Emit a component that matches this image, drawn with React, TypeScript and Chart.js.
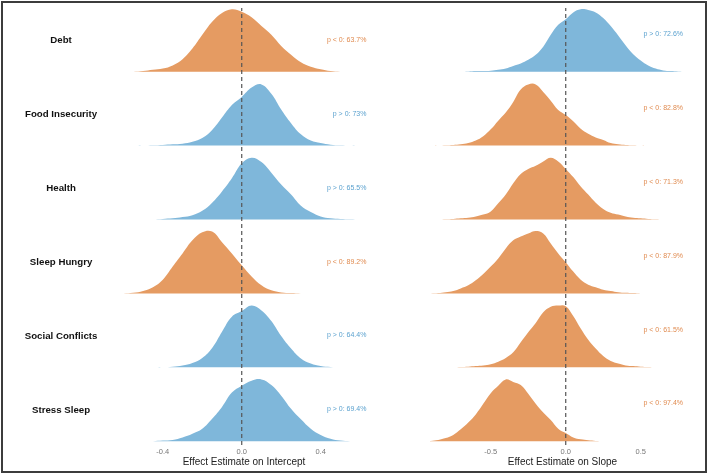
import React, { useEffect, useRef } from "react";
import { Chart, registerables } from "chart.js";

Chart.register(...registerables);

// ---------- data ----------
const categories = ["Debt", "Food Insecurity", "Health", "Sleep Hungry", "Social Conflicts", "Stress Sleep"];

const interceptTicks = [-0.4, 0, 0.4];
const slopeTicks = [-0.5, 0, 0.5];

const interceptGrid = [-0.6, -0.55, -0.5, -0.45, -0.4, -0.35, -0.3, -0.25, -0.2, -0.15, -0.1, -0.05, 0, 0.05, 0.1, 0.15, 0.2, 0.25, 0.3, 0.35, 0.4, 0.45, 0.5, 0.55, 0.6];
const slopeGrid = [-0.95, -0.9, -0.85, -0.8, -0.75, -0.7, -0.65, -0.6, -0.55, -0.5, -0.45, -0.4, -0.35, -0.3, -0.25, -0.2, -0.15, -0.1, -0.05, 0, 0.05, 0.1, 0.15, 0.2, 0.25, 0.3, 0.35, 0.4, 0.45, 0.5, 0.55, 0.6, 0.65, 0.7, 0.75, 0.8];

// relative density heights (peak = 1), intercept panel
const interceptDebt = [0, 0, 0.01, 0.03, 0.05, 0.1, 0.2, 0.37, 0.59, 0.8, 0.94, 1.0, 0.96, 0.87, 0.73, 0.59, 0.41, 0.27, 0.15, 0.08, 0.04, 0.01, 0, 0, 0];
const interceptFood = [0, 0, 0, 0.005, 0.01, 0.02, 0.03, 0.06, 0.12, 0.25, 0.45, 0.65, 0.78, 0.93, 0.98, 0.83, 0.58, 0.36, 0.18, 0.08, 0.04, 0.015, 0.005, 0, 0];
const interceptHealth = [0, 0, 0, 0, 0.01, 0.02, 0.04, 0.07, 0.14, 0.27, 0.45, 0.66, 0.9, 0.99, 0.92, 0.75, 0.56, 0.4, 0.22, 0.12, 0.05, 0.02, 0.01, 0.005, 0];
const interceptSleepHungry = [0, 0.01, 0.04, 0.1, 0.22, 0.43, 0.64, 0.85, 0.98, 0.99, 0.82, 0.64, 0.45, 0.27, 0.13, 0.05, 0.016, 0.005, 0, 0, 0, 0, 0, 0, 0];
const interceptSocial = [0, 0, 0, 0, 0, 0.01, 0.03, 0.07, 0.15, 0.31, 0.57, 0.81, 0.9, 0.99, 0.91, 0.74, 0.5, 0.3, 0.14, 0.06, 0.02, 0.005, 0, 0, 0];
const interceptStress = [0, 0, 0, 0, 0.01, 0.02, 0.06, 0.12, 0.2, 0.36, 0.55, 0.78, 0.89, 0.97, 0.99, 0.9, 0.73, 0.52, 0.35, 0.2, 0.1, 0.04, 0.01, 0, 0];

// relative density heights (peak = 1), slope panel
const slopeDebt = [0, 0, 0, 0, 0, 0, 0.005, 0.01, 0.01, 0.015, 0.03, 0.05, 0.09, 0.13, 0.19, 0.27, 0.4, 0.59, 0.75, 0.84, 0.95, 1.0, 0.99, 0.95, 0.86, 0.73, 0.58, 0.42, 0.28, 0.18, 0.1, 0.05, 0.02, 0.01, 0.005, 0];
const slopeFood = [0, 0, 0, 0.005, 0.01, 0.02, 0.04, 0.08, 0.15, 0.26, 0.4, 0.53, 0.7, 0.9, 0.98, 0.98, 0.86, 0.72, 0.57, 0.49, 0.39, 0.27, 0.19, 0.13, 0.09, 0.04, 0.02, 0.01, 0.005, 0, 0, 0, 0, 0, 0, 0];
const slopeHealth = [0, 0, 0, 0.005, 0.01, 0.02, 0.03, 0.05, 0.08, 0.13, 0.26, 0.4, 0.58, 0.73, 0.81, 0.86, 0.93, 0.99, 0.93, 0.81, 0.68, 0.53, 0.4, 0.27, 0.17, 0.11, 0.08, 0.05, 0.03, 0.02, 0.01, 0.005, 0, 0, 0, 0];
const slopeSleepHungry = [0, 0, 0.005, 0.02, 0.04, 0.08, 0.13, 0.21, 0.31, 0.43, 0.56, 0.72, 0.85, 0.91, 0.96, 1.0, 0.96, 0.8, 0.64, 0.5, 0.35, 0.22, 0.14, 0.1, 0.06, 0.04, 0.02, 0.01, 0.005, 0, 0, 0, 0, 0, 0, 0];
const slopeSocial = [0, 0, 0, 0, 0, 0.005, 0.01, 0.02, 0.03, 0.05, 0.09, 0.15, 0.24, 0.4, 0.56, 0.71, 0.88, 0.97, 0.99, 0.98, 0.82, 0.62, 0.44, 0.3, 0.18, 0.1, 0.06, 0.03, 0.02, 0.01, 0.005, 0, 0, 0, 0, 0];
const slopeStress = [0, 0.005, 0.02, 0.05, 0.1, 0.19, 0.3, 0.43, 0.6, 0.77, 0.89, 0.99, 0.95, 0.9, 0.76, 0.6, 0.46, 0.34, 0.2, 0.13, 0.06, 0.03, 0.015, 0.005, 0, 0, 0, 0, 0, 0, 0, 0, 0, 0, 0, 0];

const interceptProbLabels = ["p < 0: 63.7%", "p > 0: 73%", "p > 0: 65.5%", "p < 0: 89.2%", "p > 0: 64.4%", "p > 0: 69.4%"];
const slopeProbLabels = ["p > 0: 72.6%", "p < 0: 82.8%", "p < 0: 71.3%", "p < 0: 87.9%", "p < 0: 61.5%", "p < 0: 97.4%"];

// ---------- styling ----------
const FONT = '"Liberation Sans", Arial, Helvetica, sans-serif';
const ORANGE = "#E59B62";
const BLUE = "#7FB7DA";
const ORANGE_TEXT = "#E08B50";
const BLUE_TEXT = "#5CA2CF";
const PEAK = 0.845;
const Y_MIN = -0.051;
const Y_MAX = 5.862;

Chart.defaults.font.family = FONT;

const probLabelPlugin = {
  id: "probLabels",
  afterDatasetsDraw(chart: any, _args: any, opts: any) {
    const { ctx } = chart;
    const x = chart.scales.x;
    const y = chart.scales.y;
    ctx.save();
    ctx.font = `7px ${FONT}`;
    ctx.textAlign = "right";
    ctx.textBaseline = "middle";
    (opts.labels as string[]).forEach((txt, i) => {
      const row = categories.length - 1 - i;
      ctx.fillStyle = txt.includes("<") ? ORANGE_TEXT : BLUE_TEXT;
      ctx.fillText(txt, x.getPixelForValue(opts.xAt), y.getPixelForValue(row + opts.yOffset));
    });
    ctx.restore();
  },
};

type PanelDef = {
  grid: number[];
  series: number[][];
  labels: string[];
  ticks: number[];
  title: string;
  xMin: number;
  xMax: number;
  showRows: boolean;
  padLeft: number;
  padRight: number;
  labelX: number;
  labelYOffset: number;
};

function buildConfig(p: PanelDef): any {
  const n = categories.length;
  const ridges = p.series.map((h, i) => {
    const base = n - 1 - i;
    const color = p.labels[i].includes("<") ? ORANGE : BLUE;
    return {
      type: "line",
      data: p.grid.map((x, j) => ({ x, y: base + h[j] * PEAK })),
      backgroundColor: color,
      borderColor: color,
      borderWidth: 0,
      pointRadius: 0,
      tension: 0.4,
      fill: { value: base },
    };
  });
  const zeroLine = {
    type: "line",
    data: [
      { x: 0, y: Y_MIN },
      { x: 0, y: Y_MAX },
    ],
    borderColor: "#555",
    borderWidth: 1.2,
    borderDash: [4, 3],
    pointRadius: 0,
    tension: 0,
    fill: false,
  };
  return {
    type: "line",
    data: { datasets: [zeroLine, ...ridges] },
    plugins: [probLabelPlugin],
    options: {
      animation: false,
      responsive: false,
      events: [],
      layout: { padding: { top: 8, left: p.padLeft, right: p.padRight, bottom: 0 } },
      plugins: {
        legend: { display: false },
        tooltip: { enabled: false },
        probLabels: { labels: p.labels, xAt: p.labelX, yOffset: p.labelYOffset },
      },
      scales: {
        x: {
          type: "linear",
          min: p.xMin,
          max: p.xMax,
          grid: { display: false, drawTicks: false },
          border: { display: false },
          afterBuildTicks: (s: any) => {
            s.ticks = p.ticks.map((v) => ({ value: v }));
          },
          ticks: {
            padding: 2,
            autoSkip: false,
            maxRotation: 0,
            color: "#777",
            font: { size: 7.5 },
            callback: (v: any) => Number(v).toFixed(1),
          },
          title: {
            display: true,
            text: p.title,
            color: "#222",
            font: { size: 10 },
            padding: { top: 0, bottom: 6 },
          },
          afterFit: (s: any) => {
            s.height = 29;
            s.paddingLeft = 0;
            s.paddingRight = 0;
          },
        },
        y: {
          type: "linear",
          min: Y_MIN,
          max: Y_MAX,
          display: p.showRows,
          grid: { display: false, drawTicks: false },
          border: { display: false },
          afterBuildTicks: (s: any) => {
            s.ticks = categories.map((_, i) => ({ value: i + 0.42 }));
          },
          ticks: {
            crossAlign: "center",
            padding: 22.6,
            color: "#111",
            font: { size: 9.7, weight: "bold" },
            callback: (_v: any, i: number) => categories[categories.length - 1 - i],
          },
          afterFit: (s: any) => {
            if (p.showRows) s.width = 120;
            s.paddingTop = 0;
            s.paddingBottom = 0;
          },
        },
      },
    },
  };
}

const interceptPanel: PanelDef = {
  grid: interceptGrid,
  series: [interceptDebt, interceptFood, interceptHealth, interceptSleepHungry, interceptSocial, interceptStress],
  labels: interceptProbLabels,
  ticks: interceptTicks,
  title: "Effect Estimate on Intercept",
  xMin: -0.617,
  xMax: 0.64,
  showRows: true,
  padLeft: 0,
  padRight: 0,
  labelX: 0.632,
  labelYOffset: 0.43,
};

const slopePanel: PanelDef = {
  grid: slopeGrid,
  series: [slopeDebt, slopeFood, slopeHealth, slopeSleepHungry, slopeSocial, slopeStress],
  labels: slopeProbLabels,
  ticks: slopeTicks,
  title: "Effect Estimate on Slope",
  xMin: -0.905,
  xMax: 0.862,
  showRows: false,
  padLeft: 62,
  padRight: 14,
  labelX: 0.782,
  labelYOffset: 0.51,
};

export default function App() {
  const leftRef = useRef<HTMLCanvasElement | null>(null);
  const rightRef = useRef<HTMLCanvasElement | null>(null);

  useEffect(() => {
    const charts: Chart[] = [];
    if (leftRef.current) charts.push(new Chart(leftRef.current, buildConfig(interceptPanel)));
    if (rightRef.current) charts.push(new Chart(rightRef.current, buildConfig(slopePanel)));
    return () => charts.forEach((c) => c.destroy());
  }, []);

  return (
    <div style={{ position: "fixed", left: 0, top: 0, width: 709, height: 474, background: "#fff", overflow: "hidden" }}>
      <canvas ref={leftRef} width={368} height={474} style={{ position: "absolute", left: 0, top: 0, width: 368, height: 474 }} />
      <canvas ref={rightRef} width={341} height={474} style={{ position: "absolute", left: 368, top: 0, width: 341, height: 474 }} />
      <div
        style={{
          position: "absolute",
          left: 1,
          top: 1,
          width: 706,
          height: 472,
          boxSizing: "border-box",
          border: "2px solid #3c3c3c",
          pointerEvents: "none",
        }}
      />
    </div>
  );
}
